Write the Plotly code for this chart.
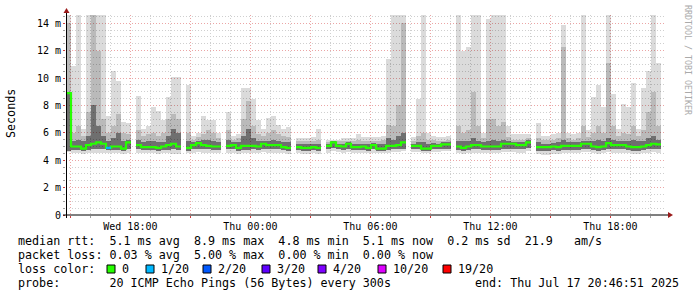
import plotly.graph_objects as go
import pandas as pd

# ---------------- data ----------------
# 15-minute columns starting Wed 2025-07-16 14:46:51 ; None = no data
rtt_median = [8.9, 5.0, 5.0, 4.85, 5.1, 5.2, 5.3, 5.2, 4.9, 5.0,
              5.0, 4.85, 5.3, None, 5.1, 4.95, 4.95, 4.95, 4.9, 5.0,
              5.1, 5.2, 5.0, None, 4.9, 5.1, 5.25, 5.1, 5.05, 5.0,
              5.0, None, 5.05, 5.1, 4.9, 5.05, 5.05, 5.05, 5.0, 5.2,
              5.1, 5.1, 5.1, 4.95, 4.9, None, 4.95, 4.9, 4.9, 4.95,
              4.9, None, 5.05, 5.3, 5.05, 5.0, 5.2, 4.95, 4.95, 5.0,
              4.9, 5.1, 4.85, 4.85, 5.05, 5.05, 5.1, 5.3, None, 5.05,
              5.05, 4.85, 4.85, 5.05, 5.05, 5.15, 5.15, None, 5.0, 4.9,
              5.0, 5.1, 5.1, 5.0, 5.0, 5.0, 5.0, 5.2, 5.2, 5.2,
              5.1, 5.1, 5.3, None, 4.95, 4.95, 4.95, 5.0, 4.95, 5.05,
              5.05, 5.05, 5.05, 5.2, 5.2, 5.0, 4.95, 5.0, 5.25, 5.1,
              5.1, 5.1, 5.0, 4.95, 4.95, 5.0, 5.1, 5.2, 5.15]

rtt_max = [15, 10.9, 15, 6.3, 15, 15, 15, 15, 7.2, 10.5,
           9.8, 6.8, 6.7, None, 8.7, 6.3, 6.5, 7.9, 7.6, 6.9,
           8.6, 10.1, 10.1, None, 9.5, 5.8, 6.0, 7.2, 6.9, 6.9,
           6.0, None, 7.5, 5.8, 5.9, 9.3, 9.3, 8.5, 6.9, 6.3,
           7.1, 7.2, 6.6, 6.3, 6.4, None, 5.6, 5.6, 5.6, 5.7,
           6.3, None, 5.5, 5.5, 5.5, 5.6, 5.6, 5.6, 5.9, 5.7,
           5.7, 5.7, 5.7, 5.8, 11.4, 15, 15, 15, None, 5.7,
           8.5, 15, 6.0, 5.8, 5.7, 5.7, 5.8, None, 15, 12.0,
           12.3, 15, 15, 6.0, 14.3, 15, 15, 15, 6.5, 5.9,
           5.9, 5.9, 5.9, None, 6.7, 5.8, 5.8, 5.9, 6.0, 13.9,
           6.0, 5.9, 6.0, 15, 6.2, 8.6, 9.5, 7.9, 15, 8.8,
           6.3, 8.1, 7.9, 9.6, 6.3, 9.3, 10.5, 15, 11.1]

rtt_p90 = [14, 6.0, 6.5, 5.8, 7.5, 15, 12, 7.0, 6.0, 6.5,
           7.4, 6.0, 5.9, None, 6.2, 5.8, 5.9, 6.0, 5.8, 6.0,
           7.0, 7.4, 7.0, None, 6.0, 5.5, 5.7, 5.9, 6.2, 6.0,
           5.6, None, 6.2, 5.5, 5.6, 7.0, 8.3, 6.5, 5.9, 5.8,
           6.0, 6.2, 5.9, 5.8, 5.7, None, 5.4, 5.4, 5.4, 5.4,
           5.5, None, 5.3, 5.4, 5.4, 5.4, 5.4, 5.4, 5.5, 5.4,
           5.4, 5.4, 5.4, 5.5, 6.6, 6.5, 8.0, 14, None, 5.4,
           5.8, 6.0, 5.5, 5.5, 5.4, 5.4, 5.5, None, 6.5, 6.0,
           6.2, 9.0, 6.5, 5.6, 7.0, 7.0, 6.5, 6.8, 5.7, 5.5,
           5.5, 5.5, 5.6, None, 5.6, 5.5, 5.5, 5.5, 5.6, 12.3,
           5.6, 5.5, 5.6, 6.5, 5.7, 6.0, 6.5, 6.0, 11.1, 6.5,
           5.8, 6.0, 5.9, 6.5, 5.8, 6.2, 7.5, 9.0, 6.5]

rtt_p75 = [9.0, 5.4, 5.5, 5.4, 5.8, 8.0, 6.5, 5.8, 5.4, 5.6,
           6.0, 5.4, 5.5, None, 5.5, 5.3, 5.4, 5.4, 5.3, 5.3,
           5.8, 6.3, 6.0, None, 5.4, 5.3, 5.4, 5.5, 5.5, 5.4,
           5.3, None, 5.5, 5.3, 5.3, 5.8, 6.3, 5.6, 5.4, 5.4,
           5.4, 5.5, 5.4, 5.3, 5.3, None, 5.2, 5.2, 5.2, 5.2,
           5.2, None, 5.15, 5.4, 5.2, 5.2, 5.3, 5.2, 5.2, 5.2,
           5.2, 5.25, 5.2, 5.2, 5.6, 5.5, 5.8, 6.0, None, 5.2,
           5.3, 5.3, 5.2, 5.25, 5.2, 5.3, 5.3, None, 5.4, 5.4,
           5.4, 5.6, 5.4, 5.3, 5.4, 5.5, 5.4, 5.5, 5.4, 5.35,
           5.3, 5.3, 5.45, None, 5.3, 5.2, 5.2, 5.25, 5.3, 5.5,
           5.3, 5.3, 5.3, 5.4, 5.4, 5.4, 5.5, 5.4, 5.6, 5.5,
           5.4, 5.4, 5.4, 5.5, 5.4, 5.4, 5.6, 5.8, 5.5]

rtt_p25 = [4.7, 4.75, 4.75, 4.7, 4.75, 4.8, 4.8, 4.8, 4.75, 4.75,
           4.75, 4.7, 4.8, None, 4.8, 4.75, 4.75, 4.75, 4.7, 4.75,
           4.75, 4.8, 4.75, None, 4.7, 4.8, 4.85, 4.8, 4.8, 4.75,
           4.75, None, 4.8, 4.8, 4.7, 4.75, 4.75, 4.8, 4.75, 4.85,
           4.8, 4.8, 4.8, 4.75, 4.7, None, 4.75, 4.7, 4.7, 4.75,
           4.7, None, 4.8, 4.9, 4.8, 4.75, 4.85, 4.75, 4.75, 4.75,
           4.7, 4.8, 4.7, 4.7, 4.75, 4.8, 4.8, 4.85, None, 4.8,
           4.8, 4.7, 4.7, 4.8, 4.8, 4.85, 4.85, None, 4.75, 4.7,
           4.75, 4.8, 4.8, 4.75, 4.75, 4.75, 4.75, 4.85, 4.85, 4.85,
           4.8, 4.8, 4.9, None, 4.7, 4.7, 4.7, 4.75, 4.7, 4.75,
           4.75, 4.75, 4.75, 4.85, 4.85, 4.75, 4.7, 4.75, 4.85, 4.8,
           4.8, 4.8, 4.75, 4.7, 4.7, 4.75, 4.8, 4.85, 4.8]

rtt_min = [4.6, 4.5, 4.5, 4.45, 4.5, 4.55, 4.55, 4.55, 4.5, 4.5,
           4.5, 4.45, 4.55, None, 4.55, 4.5, 4.5, 4.5, 4.45, 4.5,
           4.5, 4.45, 4.45, None, 4.5, 4.55, 4.6, 4.55, 4.55, 4.5,
           4.5, None, 4.55, 4.55, 4.45, 4.5, 4.5, 4.55, 4.5, 4.6,
           4.55, 4.55, 4.55, 4.5, 4.45, None, 4.5, 4.45, 4.45, 4.5,
           4.45, None, 4.55, 4.65, 4.6, 4.55, 4.6, 4.55, 4.55, 4.5,
           4.5, 4.55, 4.5, 4.5, 4.55, 4.6, 4.6, 4.65, None, 4.6,
           4.6, 4.5, 4.5, 4.6, 4.6, 4.65, 4.65, None, 4.5, 4.45,
           4.5, 4.55, 4.55, 4.5, 4.5, 4.5, 4.5, 4.6, 4.6, 4.6,
           4.55, 4.55, 4.65, None, 4.45, 4.4, 4.4, 4.45, 4.45, 4.5,
           4.5, 4.5, 4.5, 4.6, 4.6, 4.5, 4.45, 4.5, 4.6, 4.55,
           4.55, 4.55, 4.5, 4.45, 4.45, 4.5, 4.55, 4.6, 4.55]

# lost pings out of 20 for each column
loss_count = [0] * 8 + [1] + [0] * 110

loss_levels = [0, 1, 2, 3, 4, 10, 19]
loss_labels = ["0", "1/20", "2/20", "3/20", "4/20", "10/20", "19/20"]
loss_colors = ["#26ff00", "#00b8ff", "#0059ff", "#5e00ff", "#7e00ff", "#dd00ff", "#ff0000"]

y_tick_vals = [0, 2, 4, 6, 8, 10, 12, 14]
y_tick_text = ["0", "2 m", "4 m", "6 m", "8 m", "10 m", "12 m", "14 m"]

x_tick_vals = ["2025-07-16 15:00", "2025-07-16 18:00", "2025-07-16 21:00",
               "2025-07-17 00:00", "2025-07-17 03:00", "2025-07-17 06:00",
               "2025-07-17 09:00", "2025-07-17 12:00", "2025-07-17 15:00",
               "2025-07-17 18:00"]
x_tick_text = ["", "Wed 18:00", "", "Thu 00:00", "", "Thu 06:00", "",
               "Thu 12:00", "", "Thu 18:00"]

stat_lines = [
    "median rtt:  5.1 ms avg  8.9 ms max  4.8 ms min  5.1 ms now  0.2 ms sd  21.9   am/s",
    "packet loss: 0.03 % avg  5.00 % max  0.00 % min  0.00 % now",
    "loss color:",
    "probe:       20 ICMP Echo Pings (56 Bytes) every 300s",
]
end_text = "end: Thu Jul 17 20:46:51 2025"

start = pd.Timestamp("2025-07-16 14:46:51")
end = pd.Timestamp("2025-07-17 20:46:51")
step = pd.Timedelta(minutes=15)
N = len(rtt_median)
times = [start + i * step for i in range(N)]
step_ms = step.total_seconds() * 1000

# ---------------- geometry helpers (figure pixels -> paper) ----------------
L_PX, R_PX, T_PX, B_PX = 66, 666, 15, 215
def px(x):
    return (x - L_PX) / (R_PX - L_PX)
def py(y):
    return (B_PX - y) / (B_PX - T_PX)

MONO = "DejaVu Sans Mono"
fig = go.Figure()

def band(lo, hi, color):
    base, h = [], []
    for a, b in zip(lo, hi):
        if a is None or b is None:
            base.append(None); h.append(None)
        else:
            base.append(a); h.append(b - a)
    fig.add_trace(go.Bar(x=times, y=h, base=base, width=[step_ms] * N, offset=0,
                         marker=dict(color=color, line=dict(width=0)),
                         hoverinfo="skip", showlegend=False))

band(rtt_min, rtt_max, "rgba(0,0,0,0.14)")
band(rtt_p25, rtt_p90, "rgba(0,0,0,0.15)")
band(rtt_p25, rtt_p75, "rgba(0,0,0,0.40)")

# median line (stepped), broken at gaps
mx, my = [], []
for k in range(N):
    if rtt_median[k] is None:
        mx.append(times[k]); my.append(None)
        continue
    mx.append(times[k]); my.append(rtt_median[k])
    if k == N - 1 or rtt_median[k + 1] is None:
        mx.append(times[k] + step); my.append(rtt_median[k])
fig.add_trace(go.Scatter(x=mx, y=my, mode="lines", line=dict(color=loss_colors[0], width=2.2, shape="hv"),
                         connectgaps=False, hoverinfo="skip", showlegend=False))

# loss-coloured segments
for k in range(N):
    if rtt_median[k] is not None and loss_count[k] > 0:
        idx = max(i for i, lv in enumerate(loss_levels) if lv <= loss_count[k])
        fig.add_trace(go.Scatter(x=[times[k], times[k] + step], y=[rtt_median[k]] * 2, mode="lines",
                                 line=dict(color=loss_colors[idx], width=2.2, shape="hv"),
                                 hoverinfo="skip", showlegend=False))

MAJOR = "#eba5a5"
MINOR = "#cfcfcf"
DOT = "1px,2px"

fig.update_layout(
    width=697, height=297,
    margin=dict(l=L_PX, r=697 - R_PX, t=T_PX, b=297 - B_PX),
    paper_bgcolor="white", plot_bgcolor="white",
    barmode="overlay", bargap=0,
    showlegend=False,
    font=dict(family=MONO, size=10, color="black"),
    xaxis=dict(type="date", range=[start, end], tickmode="array",
               tickvals=x_tick_vals, ticktext=x_tick_text,
               showgrid=True, gridcolor=MAJOR, griddash=DOT, gridwidth=1,
               ticks="outside", ticklen=2, tickcolor="#d04040",
               minor=dict(tickmode="linear", tick0="2025-07-16 00:00", dtick=3600000,
                          showgrid=True, gridcolor=MINOR, griddash=DOT,
                          ticks="outside", ticklen=2, tickcolor="#a0a0a0"),
               showline=False, zeroline=False, fixedrange=True,
               tickfont=dict(family=MONO, size=10, color="black")),
    yaxis=dict(range=[0, 14.6], tickmode="array", tickvals=y_tick_vals, ticktext=y_tick_text,
               showgrid=True, gridcolor=MAJOR, griddash=DOT, gridwidth=1,
               ticks="outside", ticklen=2, tickcolor="#d04040",
               minor=dict(tickmode="linear", tick0=0, dtick=0.5, showgrid=True,
                          gridcolor=MINOR, griddash=DOT, ticks="outside", ticklen=2,
                          tickcolor="#a0a0a0"),
               showline=False, zeroline=False, fixedrange=True,
               tickfont=dict(family=MONO, size=10, color="black")),
)

shapes = []
# axis lines and arrows
shapes.append(dict(type="line", xref="paper", yref="paper", x0=px(63), x1=px(670), y0=py(215), y1=py(215),
                   line=dict(color="black", width=1)))
shapes.append(dict(type="line", xref="paper", yref="paper", x0=px(66.5), x1=px(66.5), y0=py(218), y1=py(12),
                   line=dict(color="black", width=1)))
shapes.append(dict(type="path", xref="paper", yref="paper",
                   path=f"M {px(63.5)} {py(13)} L {px(69.5)} {py(13)} L {px(66.5)} {py(8)} Z",
                   fillcolor="#9a1a1a", line=dict(width=0)))
shapes.append(dict(type="path", xref="paper", yref="paper",
                   path=f"M {px(668)} {py(212)} L {px(668)} {py(218)} L {px(673)} {py(215)} Z",
                   fillcolor="#9a1a1a", line=dict(width=0)))

annotations = []
LEG = 11.7
line_y = [241, 255, 269, 283]
for txt, yy in zip(stat_lines, line_y):
    annotations.append(dict(text=txt.replace(" ", "\u00a0"), x=px(16), y=py(yy), xref="paper", yref="paper",
                            xanchor="left", yanchor="middle", showarrow=False,
                            font=dict(family=MONO, size=LEG, color="black")))
annotations.append(dict(text=end_text.replace(" ", "\u00a0"), x=px(681), y=py(283), xref="paper", yref="paper",
                        xanchor="right", yanchor="middle", showarrow=False,
                        font=dict(family=MONO, size=LEG, color="black")))

box_x = [107, 146, 203, 262, 318, 378, 443]
for bx, lab, col in zip(box_x, loss_labels, loss_colors):
    shapes.append(dict(type="rect", xref="paper", yref="paper", x0=px(bx), x1=px(bx + 8),
                       y0=py(273), y1=py(265), fillcolor=col, line=dict(color="black", width=1)))
    annotations.append(dict(text=lab, x=px(bx + 13), y=py(269), xref="paper", yref="paper",
                            xanchor="left", yanchor="middle", showarrow=False,
                            font=dict(family=MONO, size=LEG, color="black")))

annotations.append(dict(text="Seconds", x=px(11), y=py(114), xref="paper", yref="paper",
                        textangle=-90, showarrow=False, xanchor="center", yanchor="middle",
                        font=dict(family=MONO, size=LEG, color="black")))
annotations.append(dict(text="RRDTOOL / TOBI OETIKER", x=px(688), y=py(60), xref="paper", yref="paper",
                        textangle=90, showarrow=False, xanchor="center", yanchor="middle",
                        font=dict(family=MONO, size=8.3, color="#aaaaaa")))

fig.update_layout(shapes=shapes, annotations=annotations)
fig.write_html("out.html")
